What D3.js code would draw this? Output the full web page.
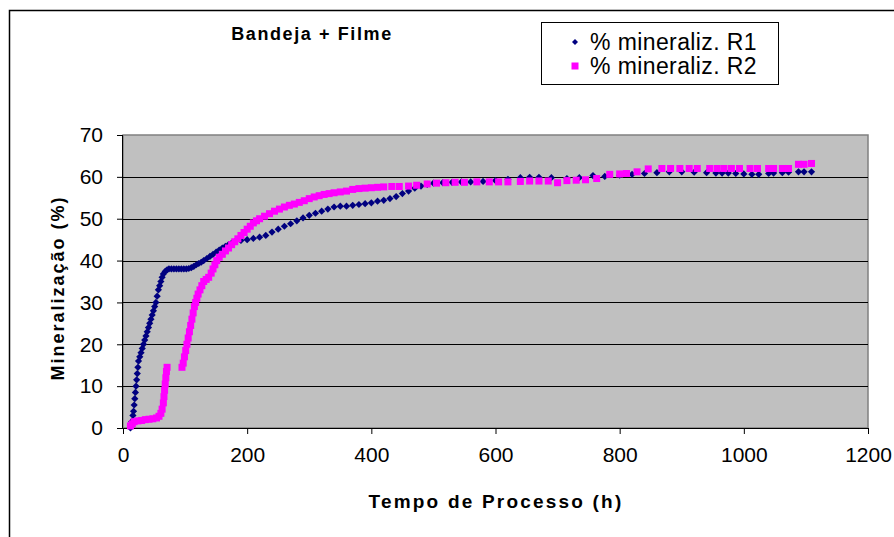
<!DOCTYPE html>
<html>
<head>
<meta charset="utf-8">
<script src="https://cdn.jsdelivr.net/npm/d3@7"></script>
<style>
  body { margin: 0; background: #fff; }
  svg { display: block; }
  text { font-family: "Liberation Sans", Arial, sans-serif; }
</style>
</head>
<body>
<div id="chart"></div>
<script>
// R1 (navy diamonds) - hours / % mineralization
const r1Hours = [12,14,16,17,18,19,20,21,22,23,24,25,27,29,31,33,35,37,39,41,43,45,47,49,51,53,55,57,59,61,63,65,68,71,74,78,82,86,90,94,98,102,106,110,114,118,122,126,130,135,140,145,150,155,160,165,170,175,180,190,200,210,220,230,240,250,260,270,280,290,300,310,320,330,340,350,360,370,380,390,400,410,420,430,440,450,460,470,480,490,500,515,530,545,560,580,600,620,640,655,670,690,715,735,757,776,800,820,840,860,880,900,920,940,955,965,975,987,1000,1013,1024,1040,1048,1062,1072,1088,1097,1109];
const r1Values = [0,1.5,3,4,5.5,7,8.5,10,11.5,13,14.5,16,17,18,19,20,21,22,23,24,25,26,27,28,29,30,31.5,33,34,35,36,36.8,37.4,37.8,38,38,38,38,38,38,38,38,38.1,38.3,38.6,39,39.3,39.6,40,40.5,41,41.5,42,42.5,43,43.4,43.8,44.2,44.5,44.8,45,45.3,45.6,46,46.8,47.5,48.2,48.8,49.5,50.2,50.8,51.3,51.8,52.3,52.8,53,53,53.2,53.4,53.6,53.8,54.2,54.4,54.8,55.3,56,56.6,57.3,57.8,58.2,58.5,58.6,58.7,58.8,58.8,58.9,59.1,59.4,59.8,59.9,59.9,59.8,59.6,59.8,60.3,60.1,60.4,60.6,60.8,61,61.2,61.2,61.1,61,60.9,60.9,60.9,60.8,60.7,60.6,60.6,60.8,60.9,61,61.1,61.2,61.2,61.2];

// R2 (magenta squares)
const r2Hours = [12,15,18,24,30,36,42,48,54,58,61,63,65,66,67,68,69,70,71,95,97,99,101,103,105,107,109,111,113,115,117,119,121,124,127,130,134,138,142,145,148,151,155,160,165,170,175,180,185,190,195,200,205,210,215,220,228,236,244,252,260,268,276,284,292,300,308,316,324,332,340,350,360,370,380,390,400,410,420,433,445,460,473,490,505,520,535,550,570,590,605,620,640,655,670,685,700,715,730,745,763,784,800,811,828,846,868,882,897,912,925,945,957,968,980,993,1010,1022,1040,1048,1062,1072,1088,1097,1109];
const r2Values = [0.5,1,1.5,1.7,1.8,2,2.1,2.2,2.4,2.8,3.5,4.5,6,7.5,9,10.5,12,13.5,14.5,14.5,15.5,17,18.5,20,21.5,23,24.5,26,27.5,29,30,31,32,33,34,35,35.5,36,37,38,39,40,40.8,41.5,42.3,43,43.8,44.5,45.2,46,46.7,47.5,48.2,49,49.5,50,50.6,51.2,51.8,52.3,52.8,53.2,53.5,53.9,54.3,54.8,55.2,55.5,55.8,56,56.2,56.4,56.6,57,57.2,57.3,57.4,57.5,57.6,57.7,57.7,57.8,58,58.3,58.5,58.6,58.7,58.7,58.8,58.8,58.8,58.8,58.9,59,59,59,58.6,59.1,59.2,59.3,59.6,60.6,60.7,60.8,61.2,61.9,62,62,62,62,62,62,62,62,62,62,62,62,62,62,62,62,63,63,63.2];

const xTicks = [0, 200, 400, 600, 800, 1000, 1200];
const yTicks = [0, 10, 20, 30, 40, 50, 60, 70];
const seriesNames = ["% mineraliz. R1", "% mineraliz. R2"];
const seriesColors = ["#000080", "#FF00FF"];

const width = 894, height = 537;
const margin = {top: 135, right: 26, bottom: 109, left: 123};

const svg = d3.select("#chart")
  .append("svg")
  .attr("width", width)
  .attr("height", height)
  .attr("viewBox", [0, 0, width, height]);

svg.append("rect").attr("width", width).attr("height", height).attr("fill", "#fff");

// outer chart frame (runs off right / bottom)
svg.append("rect")
  .attr("x", 9.5).attr("y", 10.5)
  .attr("width", width + 20).attr("height", height + 20)
  .attr("fill", "none").attr("stroke", "#000").attr("stroke-width", 1.5);

const x = d3.scaleLinear()
  .domain([0, 1200])
  .range([margin.left, width - margin.right]);

const y = d3.scaleLinear()
  .domain([0, 70])
  .range([height - margin.bottom, margin.top]);

// plot area
svg.append("rect")
  .attr("x", x(0)).attr("y", y(70))
  .attr("width", x(1200) - x(0)).attr("height", y(0) - y(70))
  .attr("fill", "#C0C0C0")
  .attr("stroke", "#808080").attr("stroke-width", 1.5);

// gridlines
svg.append("g")
  .selectAll("line")
  .data(yTicks.filter(d => d > 0 && d < 70))
  .join("line")
  .attr("x1", x(0)).attr("x2", x(1200))
  .attr("y1", d => Math.round(y(d)) + 0.5).attr("y2", d => Math.round(y(d)) + 0.5)
  .attr("stroke", "#000").attr("stroke-width", 1);

const xAxis = g => g
  .attr("transform", `translate(0,${y(0)})`)
  .call(d3.axisBottom(x).tickValues(xTicks).tickSize(6).tickPadding(13).tickFormat(d3.format("d")))
  .call(g => g.select(".domain").attr("d", `M${x(0)},0.5H${x(1200)}`).attr("stroke", "#000"))
  .call(g => g.selectAll("text").attr("font-size", 21).attr("fill", "#000"));

const yAxis = g => g
  .attr("transform", `translate(${x(0)},0)`)
  .call(d3.axisLeft(y).tickValues(yTicks).tickSize(6).tickPadding(14))
  .call(g => g.select(".domain").attr("d", `M-0.5,${y(70)}V${y(0)}`).attr("stroke", "#000"))
  .call(g => g.selectAll("text").attr("font-size", 21).attr("fill", "#000"));

svg.append("g").call(xAxis);
svg.append("g").call(yAxis);

// markers
const diamond = s => `M0,${-s}L${s},0L0,${s}L${-s},0Z`;

svg.append("g")
  .selectAll("path")
  .data(r1Hours.map((h, i) => ({h, v: r1Values[i]})))
  .join("path")
  .attr("transform", d => `translate(${x(d.h)},${y(d.v)})`)
  .attr("d", diamond(3.6))
  .attr("fill", seriesColors[0]);

svg.append("g")
  .selectAll("rect")
  .data(r2Hours.map((h, i) => ({h, v: r2Values[i]})))
  .join("rect")
  .attr("x", d => x(d.h) - 3.5).attr("y", d => y(d.v) - 3.5)
  .attr("width", 7).attr("height", 7)
  .attr("fill", seriesColors[1]);

// title
svg.append("text")
  .attr("x", 312).attr("y", 40)
  .attr("text-anchor", "middle")
  .attr("font-size", 18).attr("font-weight", "bold")
  .attr("letter-spacing", 1.6)
  .text("Bandeja + Filme");

// axis titles
svg.append("text")
  .attr("x", 496).attr("y", 508)
  .attr("text-anchor", "middle")
  .attr("font-size", 19).attr("font-weight", "bold")
  .attr("letter-spacing", 2.2)
  .text("Tempo de Processo (h)");

svg.append("text")
  .attr("transform", "translate(64,288) rotate(-90)")
  .attr("text-anchor", "middle")
  .attr("font-size", 18).attr("font-weight", "bold")
  .attr("letter-spacing", 2)
  .text("Mineralização (%)");

// legend
const legend = svg.append("g");
legend.append("rect")
  .attr("x", 541.5).attr("y", 22.5)
  .attr("width", 237).attr("height", 62)
  .attr("fill", "#fff").attr("stroke", "#000").attr("stroke-width", 1);

const items = legend.selectAll("g.item")
  .data(seriesNames)
  .join("g")
  .attr("class", "item")
  .attr("transform", (d, i) => `translate(575,${42 + i * 24})`);

items.filter((d, i) => i === 0).append("path")
  .attr("d", diamond(3)).attr("fill", seriesColors[0]);
items.filter((d, i) => i === 1).append("rect")
  .attr("x", -3.5).attr("y", -3.5).attr("width", 7).attr("height", 7)
  .attr("fill", seriesColors[1]);

items.append("text")
  .attr("x", 15).attr("y", 8)
  .attr("font-size", 23)
  .attr("letter-spacing", 0.4)
  .text(d => d);
</script>
</body>
</html>
